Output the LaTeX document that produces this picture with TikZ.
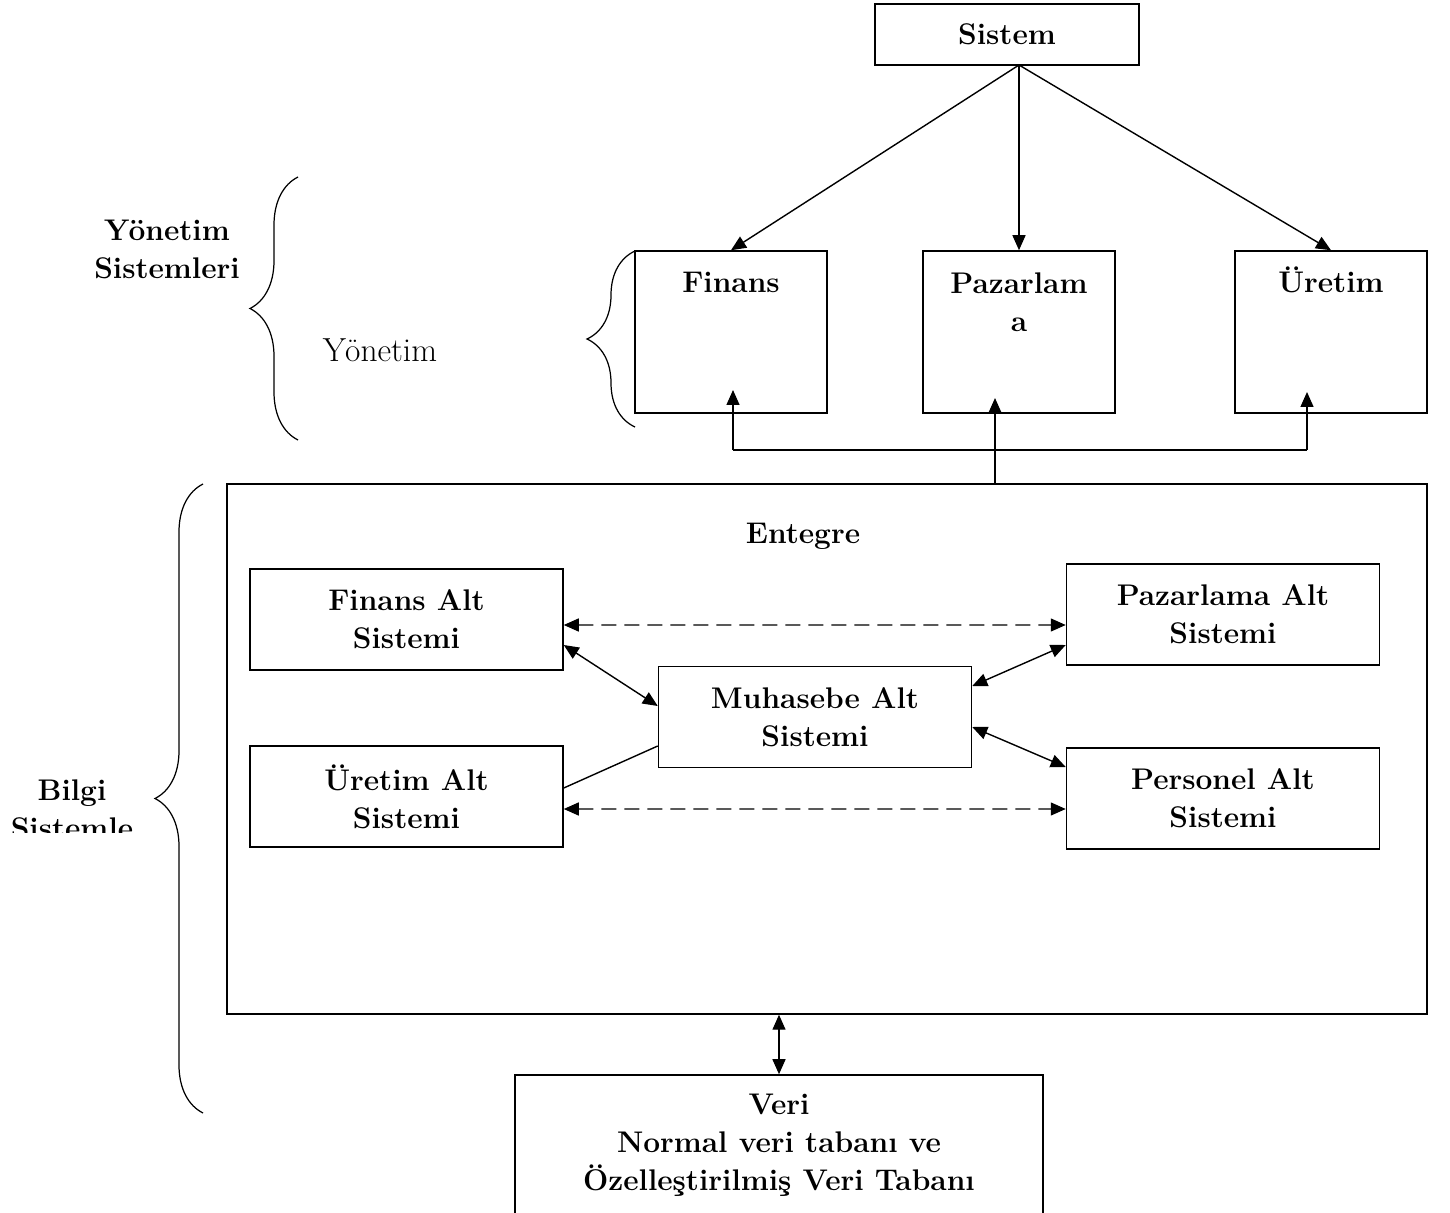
\documentclass[tikz,border=0pt]{standalone}
\usepackage{tikz}
\usetikzlibrary{
        arrows.meta,
        positioning,
        decorations.pathreplacing
    }

\begin{document}
\begin{tikzpicture}
[x=0.02cm, y=-0.02cm,
baseshape/.style={draw=black, line width=0.9pt, text centered, align=center, font=\fontsize{17}{21.6}\selectfont\bfseries},
topbox/.style={baseshape, minimum width=3.84cm, minimum height=3.24cm},
subbox/.style={baseshape, minimum width=6.26cm, minimum height=2.02cm},
caption/.style={align=center, font=\fontsize{17}{21.6}\selectfont\bfseries},
plain/.style={align=center, font=\fontsize{19}{21.6}\selectfont},
arrow/.style={line width=0.8pt, -{Triangle[length=0.3cm, width=0.26cm]}},
twoway/.style={line width=0.8pt, {Triangle[length=0.3cm, width=0.26cm]}-{Triangle[length=0.3cm, width=0.26cm]}},
dashlink/.style={twoway, dash pattern=on 0.3cm off 0.16cm},
curly/.style={decorate, decoration={brace, amplitude=0.96cm}, line width=0.7pt}]
\clip (0,0) rectangle (1450,1213);

% management level
\node (sys) [baseshape, minimum width=5.28cm, minimum height=1.22cm] at (1007,34.5) {Sistem};
\node (fin) [topbox, label={[caption, anchor=base, yshift=-0.84cm]north:Finans}] at (731,332) {};
\node (paz) [topbox, label={[caption, anchor=north, yshift=-0.32cm]north:Pazarlam\\a}] at (1019,332) {};
\node (ure) [topbox, label={[caption, anchor=base, yshift=-0.84cm]north:Üretim}] at (1331,332) {};
\node (ysys) [caption] at (167,249) {Yönetim\\Sistemleri};
\node (yon) [plain] at (380,350) {Yönetim};

% information systems
\node (ent) [baseshape, minimum width=24cm, minimum height=10.6cm] at (827,749) {};
\node (enttxt) [caption] at (803,536) {Entegre};
\node (finalt) [subbox] at (406.5,619.5) {Finans Alt\\Sistemi};
\node (pazalt) [subbox] at (1223,614.5) {Pazarlama Alt\\Sistemi};
\node (muhalt) [subbox] at (815,717) {Muhasebe Alt\\Sistemi};
\node (urealt) [subbox] at (406.5,796.5) {Üretim Alt\\Sistemi};
\node (peralt) [subbox] at (1223,798.5) {Personel Alt\\Sistemi};
\node (veri) [baseshape, minimum width=10.56cm, minimum height=2.8cm] at (779,1145) {Veri\\Normal veri tabanı ve\\Özelleştirilmiş Veri Tabanı};
\begin{scope}
\clip (0,760) rectangle (200,832);
\node (bilgi) [caption] at (72,809) {Bilgi\\Sistemle};
\end{scope}

% braces
\draw[curly] (635,427) -- (635,251);
\draw[curly] (298,440) -- (298,177);
\draw[curly] (203,1113) -- (203,484);

\coordinate (hub) at (1019,65);
\coordinate (up) at (995,484);
\coordinate (busL) at (733,450);
\coordinate (busR) at (1307,450);
\coordinate (finin) at (733,390);
\coordinate (pazin) at (995,398);
\coordinate (urein) at (1307,392);

\draw[arrow] (hub) -- (fin.north);
\draw[arrow] (hub) -- (paz.north);
\draw[arrow] (hub) -- (ure.north);
\draw[arrow] (up) -- (pazin);
\draw[line width=0.8pt] (busL) -- (busR);
\draw[arrow] (busL) -- (finin);
\draw[arrow] (busR) -- (urein);

\draw[dashlink] ([yshift=-0.11cm]finalt.east) -- ([yshift=-0.21cm]pazalt.west);
\draw[dashlink] ([yshift=-0.25cm]urealt.east) -- ([yshift=-0.21cm]peralt.west);
\draw[twoway] ([yshift=-0.51cm]finalt.east) -- ([yshift=0.22cm]muhalt.west);
\draw[twoway] ([yshift=0.62cm]muhalt.east) -- ([yshift=-0.61cm]pazalt.west);
\draw[twoway] ([yshift=-0.2cm]muhalt.east) -- ([yshift=0.63cm]peralt.west);
\draw[line width=0.8pt] ([yshift=0.17cm]urealt.east) -- ([yshift=-0.58cm]muhalt.west);
\draw[twoway] (veri.north |- ent.south) -- (veri.north);

\end{tikzpicture}
\end{document}
